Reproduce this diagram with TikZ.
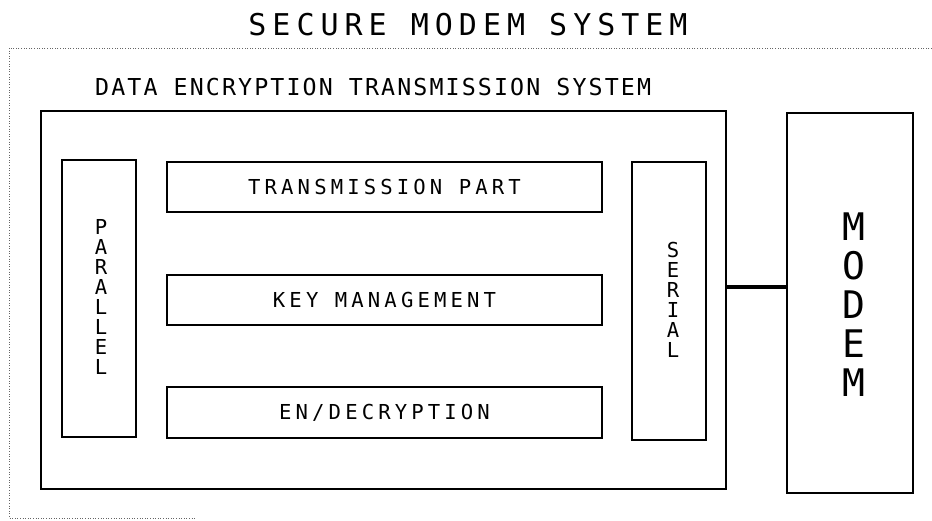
\documentclass[tikz,border=0pt]{standalone}
\usepackage{fontspec}
\newfontfamily\plotA[LetterSpace=20]{DejaVu Sans Mono}
\newfontfamily\plotB[LetterSpace=9]{DejaVu Sans Mono}
\begin{document}
\begin{tikzpicture}[x=1pt,y=-1pt,
  box/.style={draw=black, line width=1.2pt, rectangle, inner sep=0pt},
  lbl/.style={font=\plotA\fontsize{20.6}{20}\selectfont, text=black},
  vlbl/.style={font=\plotA\fontsize{20.6}{20}\selectfont, align=center, inner sep=0pt},
  frame/.style={draw=black!60, line width=0.8pt, dash pattern=on 1pt off 1.6pt},
  conn/.style={draw=black, line width=3.2pt}]
\useasboundingbox (0,0) rectangle (932,520);
% outer dotted frame
\coordinate (f1) at (932,48);
\coordinate (f2) at (9,48);
\coordinate (f3) at (9,518);
\coordinate (f4) at (196,518);
\draw[frame] (f1) -- (f2) -- (f3) -- (f4);
% titles
\node[font=\plotA\fontsize{30}{30}\selectfont, anchor=base, inner sep=0pt] (title) at (468,35) {SECURE MODEM SYSTEM};
\node[font=\plotB\fontsize{23.3}{23}\selectfont, anchor=base west, inner sep=0pt] (dets) at (95,95) {DATA ENCRYPTION TRANSMISSION SYSTEM};
% main box
\node[box, minimum width=685pt, minimum height=378pt] (main) at (383.5,300) {};
% side boxes
\node[box, minimum width=74pt, minimum height=277pt] (par) at (99,298.5) {};
\node[vlbl] (parT) at (101,297) {P\\A\\R\\A\\L\\L\\E\\L};
\node[box, minimum width=74pt, minimum height=278pt] (ser) at (669,301) {};
\node[vlbl] (serT) at (673,300) {S\\E\\R\\I\\A\\L};
% inner boxes
\node[box, minimum width=435pt, minimum height=50pt, lbl] (trans) at (384.5,187) {TRANSMISSION PART};
\node[box, minimum width=435pt, minimum height=50pt, lbl] (key) at (384.5,300) {KEY MANAGEMENT};
\node[box, minimum width=435pt, minimum height=51pt, lbl] (enc) at (384.5,412.5) {EN/DECRYPTION};
% modem
\node[box, minimum width=126pt, minimum height=380pt] (modem) at (850,303) {};
\node[font=\plotA\fontsize{38}{39}\selectfont, align=center, inner sep=0pt] (modemT) at (854,305) {M\\O\\D\\E\\M};
% connector
\coordinate (c) at (750,287);
\draw[conn] (main.east |- c) -- (modem.west |- c);
\end{tikzpicture}
\end{document}
